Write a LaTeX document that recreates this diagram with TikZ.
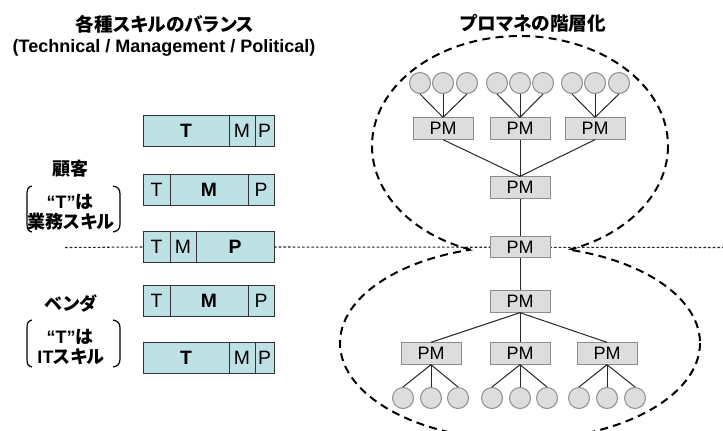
\documentclass[tikz,border=0pt]{standalone}
\usepackage{fontspec}
\setmainfont{Liberation Sans}
\newfontfamily\jp[RawFeature=+palt]{Noto Sans CJK JP}
\usetikzlibrary{positioning}
\definecolor{barfill}{RGB}{189,225,228}
\definecolor{pmfill}{RGB}{221,221,221}
\definecolor{pmline}{RGB}{140,140,140}
\tikzset{
  title/.style={font=\fontsize{14}{16}\selectfont\bfseries},
  side/.style={font=\fontsize{13.5}{15}\selectfont\bfseries},
  seg/.style={draw=black!80, fill=barfill, line width=0.75pt, minimum height=23.25pt,
    inner sep=0pt, outer sep=0pt, font=\fontsize{14.5}{16}\selectfont},
  pm/.style={draw=pmline, fill=pmfill, line width=0.75pt, minimum width=45pt,
    minimum height=16pt, inner sep=0pt, font=\fontsize{13.5}{15}\selectfont},
  member/.style={circle, draw=pmline, fill=pmfill, line width=0.75pt, minimum size=15.75pt, inner sep=0pt},
  tie/.style={line width=0.75pt, black!85},
  hier/.style={dashed, dash pattern=on 6pt off 4pt, line width=1.5pt},
  border/.style={dash pattern=on 2pt off 1.5pt, line width=0.8pt, black!85},
  paren/.style={line width=0.9pt}
}
\begin{document}
\begin{tikzpicture}[x=0.75pt, y=-0.75pt]
  \useasboundingbox (0,0) rectangle (723,430);
  \clip (0,0) rectangle (723,430);

  \node[title] (skilltitle) at (165,24) {\jp 各種スキルのバランス};   % left heading
  \node[title, font=\fontsize{13.5}{16}\selectfont\bfseries] (skillsub) at (164,48)
    {(Technical / Management / Political)};
  \node[title] (pmtitle) at (533,23) {\jp プロマネの階層化};        % right heading

  % skill bars
  \node[seg, anchor=west, minimum width=64.5pt] (b1t) at (143,130.5) {\bfseries T};
  \node[seg, right=0pt of b1t, minimum width=19.5pt] (b1m) {M};
  \node[seg, right=0pt of b1m, minimum width=14.25pt] (b1p) {P};

  \node[seg, anchor=west, minimum width=20.25pt] (b2t) at (143,189.5) {T};
  \node[seg, right=0pt of b2t, minimum width=58.5pt] (b2m) {\bfseries M};
  \node[seg, right=0pt of b2m, minimum width=19.5pt] (b2p) {P};

  \node[seg, anchor=west, minimum width=20.25pt] (b3t) at (143,247) {T};
  \node[seg, right=0pt of b3t, minimum width=19.5pt] (b3m) {M};
  \node[seg, right=0pt of b3m, minimum width=58.5pt] (b3p) {\bfseries P};

  \node[seg, anchor=west, minimum width=20.25pt] (b4t) at (143,300.5) {T};
  \node[seg, right=0pt of b4t, minimum width=58.5pt] (b4m) {\bfseries M};
  \node[seg, right=0pt of b4m, minimum width=19.5pt] (b4p) {P};

  \node[seg, anchor=west, minimum width=64.5pt] (b5t) at (143,357.5) {\bfseries T};
  \node[seg, right=0pt of b5t, minimum width=19.5pt] (b5m) {M};
  \node[seg, right=0pt of b5m, minimum width=14.25pt] (b5p) {P};

  % client / vendor labels
  \node[side] (client) at (70,169) {\jp 顧客};
  \node[side] (clientq) at (70,202) {“T”{\jp は}};
  \node[side] (clientsk) at (71,222) {\jp 業務スキル};
  \draw[paren] (32,186) .. controls (28,187) and (27,189) .. (27,194) -- (27,224)
    .. controls (27,229) and (28,231) .. (32,232);
  \draw[paren] (113,186) .. controls (118,187) and (120,189) .. (120,194) -- (120,224)
    .. controls (120,229) and (118,231) .. (113,232);

  \node[side] (vendor) at (71,304) {\jp ベンダ};
  \node[side] (vendorq) at (70,337) {“T”{\jp は}};
  \node[side] (vendorsk) at (71,357) {IT{\jp スキル}};
  \draw[paren] (32,320) .. controls (28,321) and (27,323) .. (27,328) -- (27,359)
    .. controls (27,364) and (28,366) .. (32,367);
  \draw[paren] (113,320) .. controls (118,321) and (120,323) .. (120,328) -- (120,359)
    .. controls (120,364) and (118,366) .. (113,367);

  % boundary between client and vendor
  \coordinate (lineL) at (65,247.5);
  \coordinate (lineR) at (723,247.5);
  \draw[border] (lineL) -- (b3t.west);
  \draw[border] (b3p.east) -- (lineR);

  % the two groups, outline of their union
  \begin{scope}
    \clip (0,-20) -- (740,-20) -- (740,343) -- (700,343)
      arc[start angle=0, end angle=-180, x radius=180, y radius=97] -- (-20,343) -- cycle;
    \draw[hier] (520,146) ellipse [x radius=148, y radius=110];
  \end{scope}
  \begin{scope}
    \clip (-20,460) -- (740,460) -- (740,146) -- (668,146)
      arc[start angle=0, end angle=180, x radius=148, y radius=110] -- (-20,146) -- cycle;
    \draw[hier] (520,343) ellipse [x radius=180, y radius=97];
  \end{scope}

  % upper hierarchy
  \node[member] (a1) at (420,83) {};
  \node[member] (a2) at (443,83) {};
  \node[member] (a3) at (467,83) {};
  \node[member] (a4) at (497,83) {};
  \node[member] (a5) at (520,83) {};
  \node[member] (a6) at (543,83) {};
  \node[member] (a7) at (572,83) {};
  \node[member] (a8) at (595,83) {};
  \node[member] (a9) at (619,83) {};
  \node[pm] (pmA1) at (443,128.5) {PM};
  \node[pm] (pmA2) at (520,128.5) {PM};
  \node[pm] (pmA3) at (595,128.5) {PM};
  \node[pm] (pmB) at (520,187.5) {PM};
  \node[pm] (pmC) at (520,247) {PM};   % top of both
  \draw[tie] (a1.south) -- (pmA1.north);
  \draw[tie] (a2.south) -- (pmA1.north);
  \draw[tie] (a3.south) -- (pmA1.north);
  \draw[tie] (a4.south) -- (pmA2.north);
  \draw[tie] (a5.south) -- (pmA2.north);
  \draw[tie] (a6.south) -- (pmA2.north);
  \draw[tie] (a7.south) -- (pmA3.north);
  \draw[tie] (a8.south) -- (pmA3.north);
  \draw[tie] (a9.south) -- (pmA3.north);
  \draw[tie] (pmA1.south) -- (pmB.north);
  \draw[tie] (pmA2.south) -- (pmB.north);
  \draw[tie] (pmA3.south) -- (pmB.north);
  \draw[tie] (pmB.south) -- (pmC.north);

  % lower hierarchy
  \node[pm] (pmD) at (520,301.5) {PM};
  \node[pm] (pmE1) at (431,353.5) {PM};
  \node[pm] (pmE2) at (520,353.5) {PM};
  \node[pm] (pmE3) at (607,353.5) {PM};
  \node[member] (c1) at (403,398) {};
  \node[member] (c2) at (431,398) {};
  \node[member] (c3) at (458,398) {};
  \node[member] (c4) at (492,398) {};
  \node[member] (c5) at (520,398) {};
  \node[member] (c6) at (547,398) {};
  \node[member] (c7) at (579,398) {};
  \node[member] (c8) at (607,398) {};
  \node[member] (c9) at (635,398) {};
  \draw[tie] (pmC.south) -- (pmD.north);
  \draw[tie] (pmD.south) -- (pmE1.north);
  \draw[tie] (pmD.south) -- (pmE2.north);
  \draw[tie] (pmD.south) -- (pmE3.north);
  \draw[tie] (pmE1.south) -- (c1.north);
  \draw[tie] (pmE1.south) -- (c2.north);
  \draw[tie] (pmE1.south) -- (c3.north);
  \draw[tie] (pmE2.south) -- (c4.north);
  \draw[tie] (pmE2.south) -- (c5.north);
  \draw[tie] (pmE2.south) -- (c6.north);
  \draw[tie] (pmE3.south) -- (c7.north);
  \draw[tie] (pmE3.south) -- (c8.north);
  \draw[tie] (pmE3.south) -- (c9.north);
\end{tikzpicture}
\end{document}
